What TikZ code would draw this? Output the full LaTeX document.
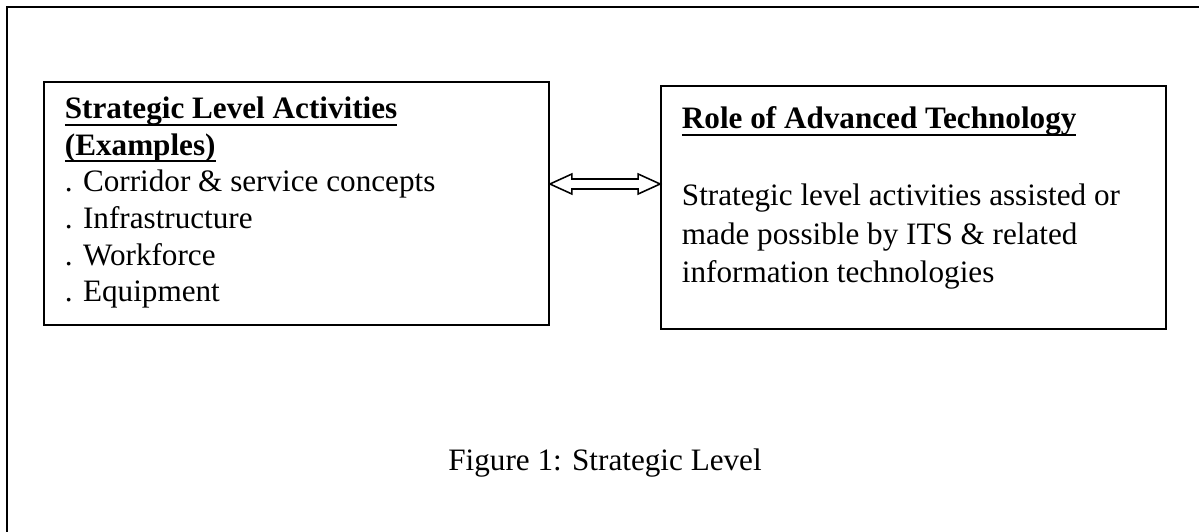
\documentclass[tikz,border=0pt]{standalone}
\usepackage{fontspec}
\setmainfont{Liberation Serif}
\usetikzlibrary{calc,positioning}
\newsavebox{\ulbox}
\newcommand{\ulbf}[1]{\sbox{\ulbox}{\textbf{#1}}\rlap{\rule[-2.8pt]{\wd\ulbox}{0.8pt}}\usebox{\ulbox}}

\begin{document}
\begin{tikzpicture}[x=0.385pt, y=-0.385pt, line width=0.7pt,
        box/.style={draw, rectangle, inner sep=0pt, minimum width=194.4pt, minimum height=93.6pt},
        boxtext/.style={anchor=north west, inner sep=0pt, align=left}]
                \useasboundingbox (0,0) rectangle (1199,532);

                % Frame
                \draw (1199,7) -- (7,7) -- (7,532);

                % Nodes
                \node[box] at (296.5, 203.5) (activities) {};
                \node[box] at (913.5, 207.5) (technology) {};

                \node[boxtext, font=\fontsize{12}{14.1}\selectfont] at (64, 96) (activitiestext) {\ulbf{Strategic Level Activities}\\
                        \ulbf{(Examples)}\\
                        . Corridor \& service concepts\\
                        . Infrastructure\\
                        . Workforce\\
                        . Equipment};
                \node[boxtext, font=\fontsize{12}{14.8}\selectfont] at (681, 106) (technologytext) {\ulbf{Role of Advanced Technology}\\[14.8pt]
                        Strategic level activities assisted or\\
                        made possible by ITS \& related\\
                        information technologies};

                \node[font=\fontsize{12}{14}\selectfont, anchor=base] at (605, 470) (caption) {Figure 1: Strategic Level};

                % Double arrow between the boxes
                \coordinate (tipL) at (activities.east |- 0,184);
                \coordinate (tipR) at (technology.west |- 0,184);
                \draw[line width=0.6pt, line join=miter] (tipL) -- ++(22,-10) -- ++(0,5) -- ($(tipR)+(-22,-5)$) -- ++(0,-5) -- (tipR)
                        -- ++(-22,10) -- ++(0,-5) -- ($(tipL)+(22,5)$) -- ++(0,5) -- cycle;

            \end{tikzpicture}
\end{document}
